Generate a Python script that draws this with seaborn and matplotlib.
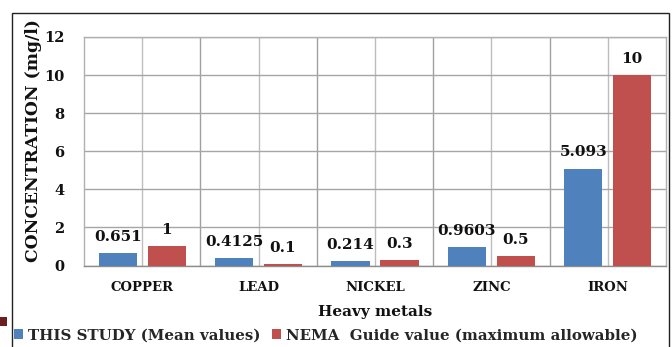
import matplotlib
matplotlib.use("Agg")
import matplotlib.pyplot as plt
from matplotlib.patches import Rectangle
import seaborn as sns
import pandas as pd

metals = ["COPPER", "LEAD", "NICKEL", "ZINC", "IRON"]
study_values = [0.651, 0.4125, 0.214, 0.9603, 5.093]
nema_values = [1, 0.1, 0.3, 0.5, 10]
series_names = ["THIS STUDY (Mean values)", "NEMA  Guide value (maximum allowable)"]
colors = ["#4F81BD", "#C0504D"]

df = pd.DataFrame({
    "metal": metals * 2,
    "value": study_values + nema_values,
    "series": [series_names[0]] * len(metals) + [series_names[1]] * len(metals),
})

sns.set_theme(style="white")
plt.rcParams["font.family"] = ["DejaVu Serif"]
plt.rcParams["font.weight"] = "bold"

W, H = 672, 347
fig = plt.figure(figsize=(W / 100, H / 100), dpi=100)
ax = fig.add_axes([84 / W, 1 - 265.5 / H, (666 - 84) / W, (265.5 - 37) / H])

sns.barplot(data=df, x="metal", y="value", hue="series", palette=colors,
            width=0.84, gap=0.22, saturation=1, errorbar=None, ax=ax,
            zorder=3, linewidth=0)

for cont in ax.containers:
    ax.bar_label(cont, labels=[f"{b.get_height():g}" for b in cont],
                 padding=6.5, fontsize=11, fontweight="bold", color="#111111")

ax.set_ylim(0, 12)
ax.set_yticks(range(0, 13, 2))
ax.set_xlim(-0.5, len(metals) - 0.5)

# gridlines: horizontal at each tick, vertical at group centres and boundaries
ax.yaxis.grid(True, color="#a6a6a6", linewidth=1.0, zorder=0)
for i in range(len(metals)):
    ax.axvline(i, color="#bdbdbd", linewidth=1.0, zorder=0)
for i in range(len(metals) - 1):
    ax.axvline(i + 0.5, color="#a0a0a0", linewidth=1.0, zorder=0)

for side in ["left", "right", "top", "bottom"]:
    ax.spines[side].set_visible(True)
    ax.spines[side].set_color("#b0b0b0")
    ax.spines[side].set_linewidth(1.0)
ax.spines["bottom"].set_color("#8c8c8c")

ax.tick_params(axis="both", length=0)
ax.tick_params(axis="y", pad=14, labelsize=10.5, labelcolor="#111111")
ax.tick_params(axis="x", pad=11, labelsize=9.5, labelcolor="#111111")
for t in ax.get_xticklabels() + ax.get_yticklabels():
    t.set_fontweight("bold")

ax.set_xlabel("Heavy metals", fontsize=11, fontweight="bold", color="#111111")
ax.xaxis.set_label_coords(0.5, (265.5 - 312) / 228.5)
ax.xaxis.label.set_va("center")
ax.set_ylabel("CONCENTRATION (mg/l)", fontsize=12.3, fontweight="bold", color="#111111")
ax.yaxis.set_label_coords((34 - 84) / 582, (265.5 - 141) / 228.5)
ax.yaxis.label.set_va("center")

handles, labels = ax.get_legend_handles_labels()
ax.legend_.remove()
fig.legend(handles, labels, loc="center left", bbox_to_anchor=(0, 1 - 335.5 / H),
           ncol=2, frameon=False, handlelength=0.6, handleheight=0.6,
           handletextpad=0.35, columnspacing=0.8, prop={"weight": "bold", "size": 10.8})

# outer chart frame
fig.add_artist(Rectangle((12 / W, -0.05), (669 - 12) / W, 1 - 13 / H + 0.05,
                         transform=fig.transFigure, fill=False,
                         edgecolor="#222222", linewidth=1.0))
# small marker at the page margin
fig.add_artist(Rectangle((0, 1 - 326 / H), 7 / W, 9 / H, transform=fig.transFigure,
                         facecolor="#6b1f1f", edgecolor="none"))

fig.savefig("out.png", dpi=100)
